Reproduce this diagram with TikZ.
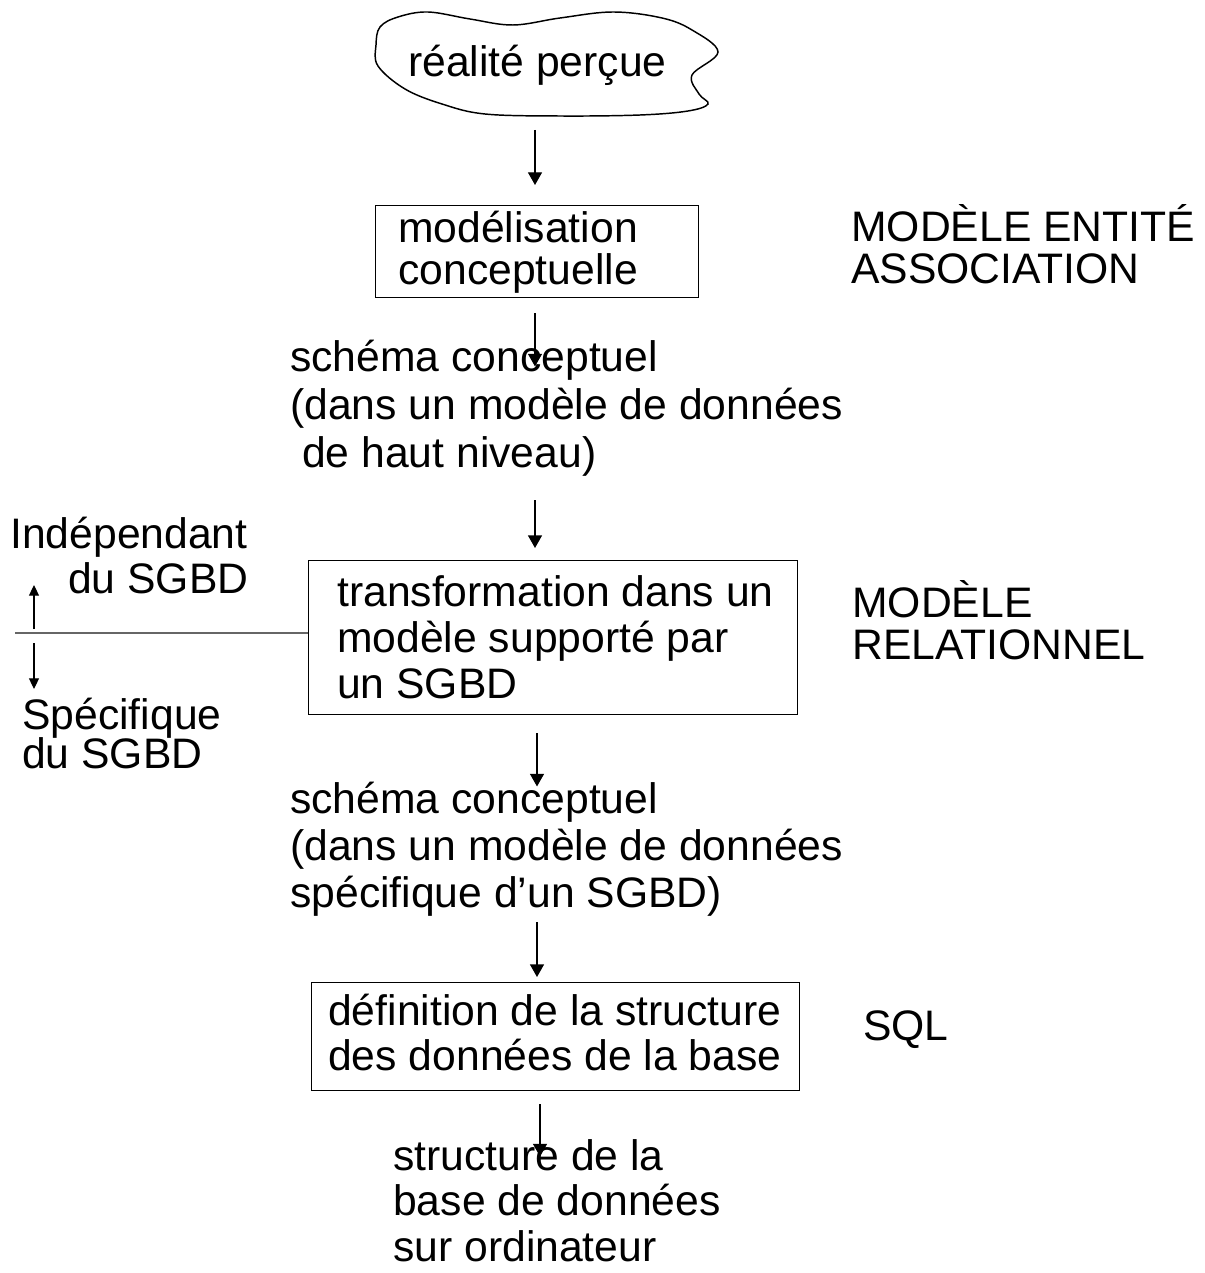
\documentclass[tikz,border=0pt]{standalone}
\usepackage{fontspec}
\setmainfont{Liberation Sans}
\usetikzlibrary{arrows.meta,calc}
\begin{document}
\begin{tikzpicture}[x=0.75pt,y=-0.75pt,
  txt/.style={font=\fontsize{32}{36}\selectfont, inner sep=0pt, align=left, anchor=base west},
  tight/.style={font=\fontsize{32}{31.5}\selectfont},
  boxn/.style={draw, line width=1.1pt, inner sep=0pt, anchor=north west},
  arr/.style={line width=1pt, -{Triangle[length=9.5pt,width=10.5pt]}},
  smallarr/.style={line width=0.8pt, -{Triangle[length=8pt,width=7.5pt]}},
  sepline/.style={line width=0.8pt, draw=black!60}]
\useasboundingbox (0,0) rectangle (1204,1273);

% cloud
\draw[line width=1.1pt] plot[smooth cycle, tension=0.6] coordinates {
  (380,27) (398,17) (428,12) (470,19) (513,25) (560,18) (613,12) (662,18)
  (692,30) (718,52) (692,75) (699,94) (708,104) (688,111) (640,115)
  (560,116) (485,114) (442,104) (405,89) (378,66) (376,45)};
\coordinate (cloudb) at (535,116);
\node[txt] (real) at (408,77) {réalité perçue};

% boxes
\node[boxn, minimum width=242.25pt, minimum height=69pt] (box1) at (375,205) {};
\node[txt, tight] (t1) at (398,284) {modélisation\\conceptuelle};

\node[txt] (s1) at (290,467) {schéma conceptuel\\(dans un modèle de données\\\hspace*{0.28em}de haut niveau)};

\node[boxn, minimum width=366.75pt, minimum height=115.5pt] (box2) at (308,560) {};
\node[txt, font=\fontsize{32}{34.5}\selectfont] (t2) at (337,698) {transformation dans un\\modèle supporté par\\un SGBD};

\node[txt, font=\fontsize{32}{35}\selectfont] (s2) at (290,907) {schéma conceptuel\\(dans un modèle de données\\spécifique d’un SGBD)};

\node[boxn, minimum width=366pt, minimum height=81pt] (box3) at (311,982) {};
\node[txt, font=\fontsize{32}{33.75}\selectfont] (t3) at (328,1070) {définition de la structure\\des données de la base};

\node[txt, font=\fontsize{32}{34}\selectfont] (s3) at (393,1261) {structure de la\\base de données\\sur ordinateur};

% right labels
\node[txt, tight] (r1) at (851,283) {MODÈLE ENTITÉ\\ASSOCIATION};
\node[txt, tight] (r2) at (852,659) {MODÈLE\\RELATIONNEL};
\node[txt] (r3) at (863,1040) {SQL};

% left labels
\node[txt] (l1) at (10,548) {Indépendant};
\node[txt] (l2) at (68,593) {du SGBD};
\node[txt] (l3) at (22,729) {Spécifique};
\node[txt] (l4) at (22,768) {du SGBD};

% separator line
\coordinate (sepl) at (15,633);
\draw[sepline] (sepl) -- (sepl -| box2.west);
\coordinate (sepa) at (34,633);
\draw[smallarr] (sepa) ++(0,-4) -- ++(0,-44);
\draw[smallarr] (sepa) ++(0,10) -- ++(0,46);

% main arrows
\draw[arr] (cloudb) ++(0,14) -- (cloudb |- 0,185);
\draw[arr] (box1.south -| cloudb) ++(0,15) -- ++(0,53);
\draw[arr] (box2.north -| cloudb) ++(0,-60) -- ++(0,48);
\draw[arr] (box2.south -| 537,0) ++(0,18) -- ++(0,53);
\draw[arr] (box3.north -| 537,0) ++(0,-60) -- ++(0,55);
\draw[arr] (box3.south -| 540,0) ++(0,13) -- ++(0,52);
\end{tikzpicture}
\end{document}
